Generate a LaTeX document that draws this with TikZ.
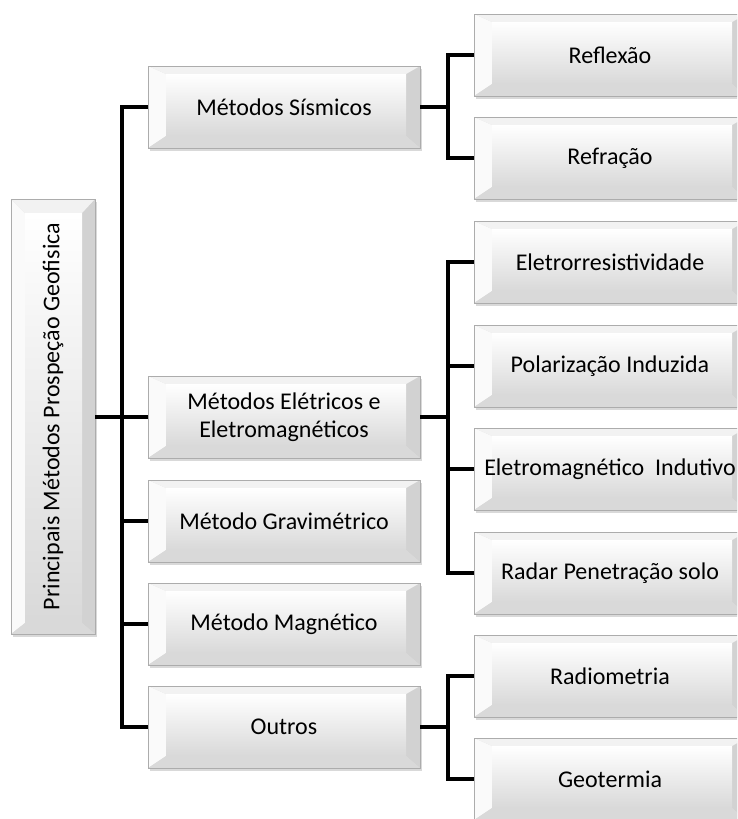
\documentclass[tikz,border=0pt]{standalone}
\usepackage{fontspec}
\setmainfont{Carlito}
\usetikzlibrary{calc}
\usetikzlibrary{shadows}

\begin{document}
\begin{tikzpicture}[x=1pt, y=-1pt,
   every node/.style={font=\fontsize{24}{28}\selectfont, inner sep=0pt},
   bevel/.style n args={4}{rectangle, draw=gray!65, line width=0.8pt, fill=gray!25,
      drop shadow={shadow xshift=2pt, shadow yshift=-3pt, opacity=0.3},
      path picture={
         \coordinate (bsw) at (path picture bounding box.south west);
         \coordinate (bne) at (path picture bounding box.north east);
         \coordinate (isw) at ($(bsw)+(#1,#4)$);
         \coordinate (ine) at ($(bne)-(#3,#2)$);
         \fill[gray!4] (bsw) -- (bsw|-bne) -- (isw|-ine) -- (isw) -- cycle;
         \fill[gray!35] (bne|-bsw) -- (bne) -- (ine) -- (ine|-isw) -- cycle;
         \fill[gray!30] (bsw) -- (bne|-bsw) -- (ine|-isw) -- (isw) -- cycle;
         \fill[gray!10] (bsw|-bne) -- (bne) -- (ine) -- (isw|-ine) -- cycle;
         \shade[top color=white, bottom color=gray!30] (isw) rectangle (ine);
      }},
   metodo/.style={bevel={18pt}{8pt}{14pt}{12pt}, minimum width=272pt, minimum height=82pt, align=center},
   link/.style={line width=4pt}]

   \useasboundingbox (0,0) rectangle (737,819);
   \clip (0,0) rectangle (737,819);

   \node[bevel={14pt}{14pt}{13pt}{11pt}, minimum width=84pt, minimum height=435pt] (root) at (53,416.5)
        {\rotatebox{90}{Principais Métodos Prospeção Geofisica}};

   \node[metodo] (sism) at (284,107) {Métodos Sísmicos};
   \node[metodo] (elet) at (284,417) {Métodos Elétricos e\\Eletromagnéticos};
   \node[metodo] (grav) at (284,521) {Método Gravimétrico};
   \node[metodo] (magn) at (284,624) {Método Magnético};
   \node[metodo] (outr) at (284,727) {Outros};

   \node[metodo] (refl) at (610,55)  {Reflexão};
   \node[metodo] (refr) at (610,158) {Refração};
   \node[metodo] (eres) at (610,262) {Eletrorresistividade};
   \node[metodo] (pola) at (610,366) {Polarização Induzida};
   \node[metodo] (emag) at (610,469) {Eletromagnético~ Indutivo};
   \node[metodo] (radr) at (610,573) {Radar Penetração solo};
   \node[metodo] (radi) at (610,676) {Radiometria};
   \node[metodo] (geot) at (610,779) {Geotermia};

   \coordinate (tronco) at (122,0);
   \coordinate (barra) at (448,0);

   \draw[link] (root.east |- elet) -- (elet.west);
   \draw[link] (sism.west) -- (sism.west -| tronco) -- (outr.west -| tronco) -- (outr.west);
   \foreach \m in {grav,magn}
      \draw[link] (\m.west -| tronco) -- (\m.west);

   \draw[link] (sism.east) -- (sism.east -| barra);
   \draw[link] (refl.west) -- (refl.west -| barra) -- (refr.west -| barra) -- (refr.west);

   \draw[link] (elet.east) -- (elet.east -| barra);
   \draw[link] (eres.west) -- (eres.west -| barra) -- (radr.west -| barra) -- (radr.west);
   \foreach \m in {pola,emag}
      \draw[link] (\m.west -| barra) -- (\m.west);

   \draw[link] (outr.east) -- (outr.east -| barra);
   \draw[link] (radi.west) -- (radi.west -| barra) -- (geot.west -| barra) -- (geot.west);
\end{tikzpicture}
\end{document}
